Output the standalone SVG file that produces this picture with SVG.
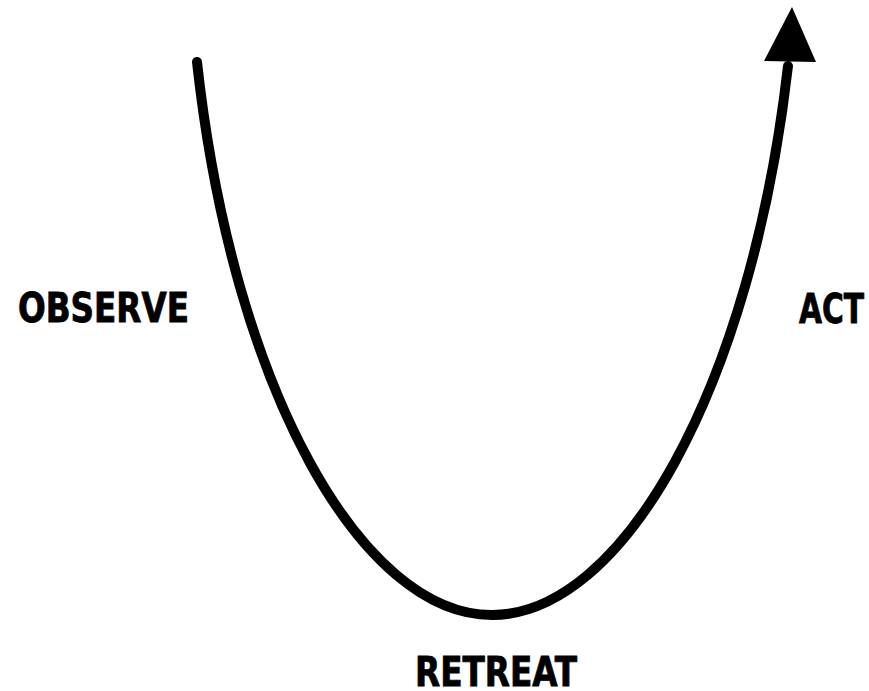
<svg xmlns="http://www.w3.org/2000/svg" width="869" height="691" viewBox="0 0 869 691">
<style>
.lbl{font-family:"DejaVu Sans",sans-serif;font-stretch:condensed;font-weight:bold;font-size:40px;fill:#000;stroke:#000;stroke-width:0.8}
.curve{fill:none;stroke:#000;stroke-width:10;stroke-linecap:round}
</style>
<rect width="869" height="691" fill="#fff"/>
<g id="connectors">
<path class="curve" d="M197,62 C233,390 362,615 492,615 C622,615 751,390 788,66"/>
<polygon points="764,61 816,62 792,7" fill="#000"/>
</g>
<g id="observe"><text class="lbl" x="18" y="322" textLength="171" lengthAdjust="spacingAndGlyphs">OBSERVE</text></g>
<g id="act"><text class="lbl" x="799" y="323" textLength="65" lengthAdjust="spacingAndGlyphs">ACT</text></g>
<g id="retreat"><text class="lbl" x="415" y="686" textLength="162" lengthAdjust="spacingAndGlyphs">RETREAT</text></g>
</svg>
